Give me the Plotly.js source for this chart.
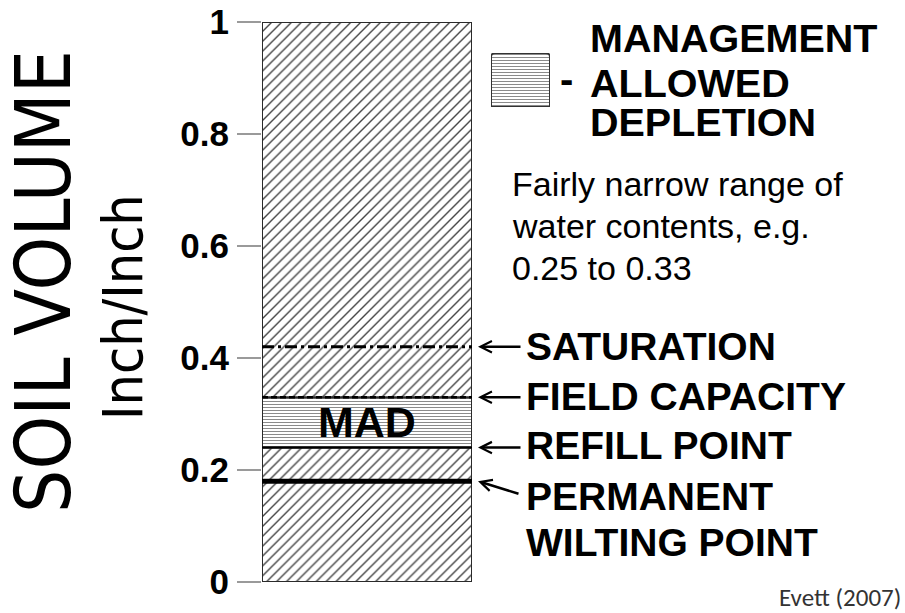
<!DOCTYPE html>
<html>
<head>
<meta charset="utf-8">
<script src="https://cdn.plot.ly/plotly-3.0.1.min.js"></script>
<style>html,body{margin:0;padding:0;background:#fff;}#chart{width:905px;height:613px;}</style>
</head>
<body>
<div id="chart"></div>
<script>
// ---- data ----
const tickValues = [0, 0.2, 0.4, 0.6, 0.8, 1];
const tickLabels = ['0', '0.2', '0.4', '0.6', '0.8', '1'];
const layerBottom = [0, 0.24, 0.33];
const layerTop = [0.24, 0.33, 1];
const layerPattern = ['/', '-', '/'];
const levelNames = ['SATURATION', 'FIELD CAPACITY', 'REFILL POINT', 'PERMANENT WILTING POINT'];
const levelValues = [0.42, 0.33, 0.24, 0.18];
const madRange = [0.24, 0.33];
const legendSwatch = [1];

// ---- layout helpers (pixel -> paper) ----
const W = 905, H = 613;
const px = x => x / W;
const py = y => 1 - y / H;

const bar = {
  type: 'bar', x: layerBottom.map(() => 0.5), width: layerBottom.map(() => 1),
  base: layerBottom, y: layerTop.map((t, i) => t - layerBottom[i]),
  xaxis: 'x', yaxis: 'y',
  marker: {
    color: 'white',
    line: {color: '#2a2a2a', width: 2},
    pattern: {shape: layerPattern, fgcolor: ['#444', '#8a8a8a', '#444'], bgcolor: 'white',
              size: [7, 3, 7], solidity: [0.2, 0.33, 0.2], fillmode: 'replace'}
  },
  hoverinfo: 'skip'
};

const lineStyles = [
  {width: 3, dash: '12px,4px,3px,4px'},
  {width: 2.5, dash: '6px,3px'},
  {width: 2, dash: 'solid'},
  {width: 5, dash: 'solid'}
];
const lines = levelValues.map((v, i) => ({
  type: 'scatter', mode: 'lines', x: [0, 1], y: [v, v], xaxis: 'x', yaxis: 'y',
  line: {color: '#000', width: lineStyles[i].width, dash: lineStyles[i].dash},
  hoverinfo: 'skip', cliponaxis: false
}));

const swatch = {
  type: 'bar', x: [0], y: legendSwatch, width: [1], xaxis: 'x2', yaxis: 'y2',
  marker: {color: 'white', cornerradius: 4, line: {color: '#333', width: 2},
           pattern: {shape: '-', fgcolor: '#8a8a8a', bgcolor: 'white', size: 3, solidity: 0.33, fillmode: 'replace'}},
  hoverinfo: 'skip'
};

const boldFont = (s) => ({family: 'Liberation Sans, Arial, sans-serif', size: s, color: '#000', weight: 'bold'});
const regFont = (s) => ({family: 'Liberation Sans, Arial, sans-serif', size: s, color: '#000'});
const condFont = (s) => ({family: 'DejaVu Sans Condensed, Liberation Sans Narrow, sans-serif', size: s, color: '#000'});

const annotations = [];
function txt(text, x, y, font, xanchor, extra) {
  annotations.push(Object.assign({text, x: px(x), y: py(y), xref: 'paper', yref: 'paper',
    xanchor: xanchor || 'left', yanchor: 'middle', showarrow: false, font}, extra || {}));
}
// axis title
txt('SOIL VOLUME', 43, 282, condFont(76), 'center', {textangle: -90});
txt('Inch/Inch', 123, 307, condFont(55), 'center', {textangle: -90});
// legend text
txt('MANAGEMENT', 588, 38, boldFont(39.5));
txt('ALLOWED', 588, 83, boldFont(39.5));
txt('DEPLETION', 588, 122, boldFont(39.5));
txt('-', 566, 79, boldFont(40), 'center');
txt('Fairly narrow range of', 510, 184, regFont(34));
txt('water contents, e.g.', 510, 226, regFont(34));
txt('0.25 to 0.33', 510, 268, regFont(34));
// level labels
const labelY = [346.5, 396.5, 445, 496.5];
txt(levelNames[0], 524, labelY[0], boldFont(39));
txt(levelNames[1], 524, labelY[1], boldFont(39));
txt(levelNames[2], 524, labelY[2], boldFont(39));
const pwp = levelNames[3].split(' ');
txt(pwp[0], 524, labelY[3], boldFont(39));
txt(pwp.slice(1).join(' '), 524, 542, boldFont(39));
// MAD label at centre of band
annotations.push({text: 'MAD', x: 0.5, y: (madRange[0] + madRange[1]) / 2, xref: 'x', yref: 'y',
  xanchor: 'center', yanchor: 'middle', showarrow: false, font: boldFont(43)});
// source
txt('Evett (2007)', 903, 597, {family: 'Carlito, Liberation Sans, Arial, sans-serif', size: 25, color: '#333'}, 'right');
// arrows
const arrowOffsets = [[44, 0], [44, 0], [44, 0], [42, 13]];
levelValues.forEach((v, i) => {
  annotations.push({text: '', x: px(478), y: v, xref: 'paper', yref: 'y',
    showarrow: true, arrowhead: 5, arrowsize: 0.9, arrowwidth: 2.5, arrowcolor: '#000',
    ax: arrowOffsets[i][0], ay: arrowOffsets[i][1], axref: 'pixel', ayref: 'pixel', standoff: 0});
});

const layout = {
  width: W, height: H, autosize: false,
  margin: {l: 0, r: 0, t: 0, b: 0},
  paper_bgcolor: 'white', plot_bgcolor: 'rgba(0,0,0,0)',
  showlegend: false, hovermode: false, barmode: 'overlay', bargap: 0,
  xaxis: {domain: [px(262), px(472)], range: [0, 1], visible: false, fixedrange: true},
  yaxis: {domain: [py(582), py(22)], range: [0, 1], tickvals: tickValues, ticktext: tickLabels,
    ticks: 'outside', ticklen: 24, tickwidth: 1.5, tickcolor: '#9a9a9a', ticklabelstandoff: 1,
    showgrid: false, zeroline: false, showline: false, automargin: false,
    tickfont: boldFont(35), fixedrange: true},
  xaxis2: {domain: [px(491), px(550)], range: [-0.5, 0.5], visible: false, fixedrange: true},
  yaxis2: {domain: [py(107), py(53)], range: [0, 1], visible: false, fixedrange: true},
  annotations
};

Plotly.newPlot('chart', [bar, ...lines, swatch], layout, {staticPlot: true, displayModeBar: false});
</script>
</body>
</html>
